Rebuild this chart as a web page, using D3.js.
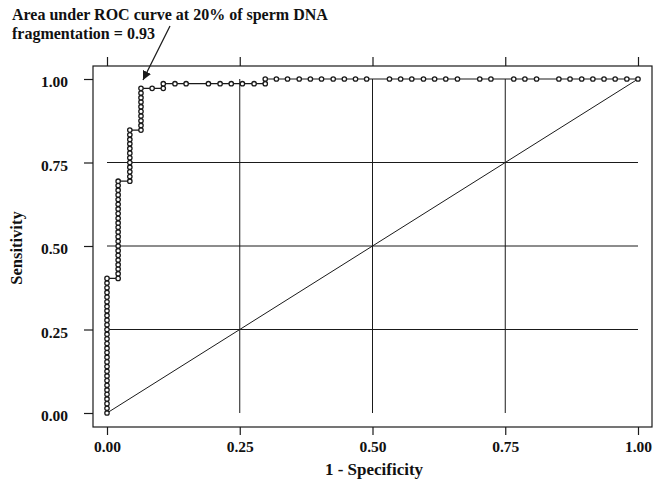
<!DOCTYPE html>
<html>
<head>
    <title>ROC curve</title>
    <script src="https://d3js.org/d3.v7.min.js"></script>
    <style>
        body { margin: 0; background: #fff; }
        text { font-family: "Liberation Serif", "Times New Roman", serif; font-weight: bold; fill: #111; }
    </style>
</head>
<body>
    <div id="chart"></div>

    <script>
        // ROC points (1 - specificity, sensitivity)
        var fpr = [
            0, 0, 0, 0, 0, 0, 0, 0, 0, 0, 0, 0, 0, 0, 0,
            0, 0, 0, 0, 0, 0, 0, 0, 0, 0, 0, 0, 0, 0, 0,
            0.021, 0.021, 0.021, 0.021, 0.021, 0.021, 0.021, 0.021, 0.021, 0.021, 0.021,
            0.021, 0.021, 0.021, 0.021, 0.021, 0.021, 0.021, 0.021, 0.021, 0.021, 0.021,
            0.043, 0.043, 0.043, 0.043, 0.043, 0.043, 0.043, 0.043, 0.043, 0.043, 0.043, 0.043,
            0.064, 0.064, 0.064, 0.064, 0.064, 0.064, 0.064, 0.064, 0.064, 0.064,
            0.085, 0.106,
            0.106, 0.128, 0.149, 0.191, 0.213, 0.234, 0.255, 0.277, 0.298,
            0.298, 0.319, 0.340, 0.362, 0.383, 0.404, 0.426, 0.447, 0.468, 0.489,
            0.532, 0.553, 0.574, 0.596, 0.617, 0.638, 0.660, 0.702, 0.723,
            0.766, 0.787, 0.809, 0.851, 0.872, 0.894, 0.915, 0.936, 0.957, 0.979, 1
        ];
        var sens = [
            0, 0.014, 0.028, 0.042, 0.056, 0.069, 0.083, 0.097, 0.111, 0.125, 0.139, 0.153, 0.167, 0.181, 0.194,
            0.208, 0.222, 0.236, 0.250, 0.264, 0.278, 0.292, 0.306, 0.319, 0.333, 0.347, 0.361, 0.375, 0.389, 0.403,
            0.403, 0.417, 0.431, 0.444, 0.458, 0.472, 0.486, 0.500, 0.514, 0.528, 0.542,
            0.556, 0.569, 0.583, 0.597, 0.611, 0.625, 0.639, 0.653, 0.667, 0.681, 0.694,
            0.694, 0.708, 0.722, 0.736, 0.750, 0.764, 0.778, 0.792, 0.806, 0.819, 0.833, 0.847,
            0.847, 0.861, 0.875, 0.889, 0.903, 0.917, 0.931, 0.944, 0.958, 0.972,
            0.972, 0.972,
            0.986, 0.986, 0.986, 0.986, 0.986, 0.986, 0.986, 0.986, 0.986,
            1, 1, 1, 1, 1, 1, 1, 1, 1, 1,
            1, 1, 1, 1, 1, 1, 1, 1, 1,
            1, 1, 1, 1, 1, 1, 1, 1, 1, 1, 1
        ];
        var tickValues = [0, 0.25, 0.5, 0.75, 1];
        var gridValues = [0.25, 0.5, 0.75];
        var noteLines = ["Area under ROC curve at 20% of sperm DNA", "fragmentation = 0.93"];

        var width = 654, height = 482;
        var frame = { left: 93, right: 652, top: 66, bottom: 427 };

        var svg = d3.select("#chart").append("svg").attr("width", width).attr("height", height);

        var x = d3.scaleLinear().domain([0, 1]).range([107, 638]);
        var y = d3.scaleLinear().domain([0, 1]).range([413, 79]);

        var ink = "#1a1a1a";

        // grid lines inside the data range
        svg.selectAll(".vgrid").data(gridValues).enter().append("line")
            .attr("x1", function(d) { return x(d); }).attr("x2", function(d) { return x(d); })
            .attr("y1", y(0)).attr("y2", y(1))
            .attr("stroke", ink).attr("stroke-width", 1);
        svg.selectAll(".hgrid").data(gridValues).enter().append("line")
            .attr("x1", x(0)).attr("x2", x(1))
            .attr("y1", function(d) { return y(d); }).attr("y2", function(d) { return y(d); })
            .attr("stroke", ink).attr("stroke-width", 1);

        // reference diagonal
        svg.append("line")
            .attr("x1", x(0)).attr("y1", y(0)).attr("x2", x(1)).attr("y2", y(1))
            .attr("stroke", ink).attr("stroke-width", 1);

        // frame
        svg.append("rect")
            .attr("x", frame.left).attr("y", frame.top)
            .attr("width", frame.right - frame.left).attr("height", frame.bottom - frame.top)
            .attr("fill", "none").attr("stroke", ink).attr("stroke-width", 1.2);

        // axes
        var fmt = d3.format(".2f");
        var xAxis = svg.append("g")
            .attr("transform", "translate(0," + frame.bottom + ")")
            .call(d3.axisBottom(x).tickValues(tickValues).tickFormat(fmt).tickSize(8).tickPadding(6));
        var xTop = svg.append("g")
            .attr("transform", "translate(0," + frame.top + ")")
            .call(d3.axisTop(x).tickValues(tickValues).tickFormat("").tickSize(9));
        var yAxis = svg.append("g")
            .attr("transform", "translate(" + frame.left + ",0)")
            .call(d3.axisLeft(y).tickValues(tickValues).tickFormat(fmt).tickSize(9).tickPadding(16));

        [xAxis, xTop, yAxis].forEach(function(g) {
            g.select(".domain").remove();
            g.selectAll("line").attr("stroke", ink).attr("stroke-width", 1.2);
            g.selectAll("text").attr("font-size", 15.5).attr("font-family", null).attr("fill", "#111");
        });
        yAxis.selectAll("text").attr("dy", "0.5em");

        // ROC curve
        var pts = fpr.map(function(f, i) { return [f, sens[i]]; });
        svg.append("path")
            .datum(pts)
            .attr("fill", "none").attr("stroke", ink).attr("stroke-width", 1.2)
            .attr("d", d3.line().x(function(d) { return x(d[0]); }).y(function(d) { return y(d[1]); }));

        svg.selectAll(".pt").data(pts).enter().append("circle")
            .attr("cx", function(d) { return x(d[0]); })
            .attr("cy", function(d) { return y(d[1]); })
            .attr("r", 2.2)
            .attr("fill", "#fff").attr("stroke", ink).attr("stroke-width", 1.3);

        // axis titles
        svg.append("text")
            .attr("x", 374).attr("y", 475).attr("text-anchor", "middle").attr("font-size", 17)
            .text("1 - Specificity");
        svg.append("text")
            .attr("transform", "translate(22,248) rotate(-90)").attr("text-anchor", "middle").attr("font-size", 16.5)
            .text("Sensitivity");

        // annotation
        svg.selectAll(".note").data(noteLines).enter().append("text")
            .attr("x", 12).attr("y", function(d, i) { return 20 + i * 19; })
            .attr("font-size", 16)
            .text(function(d) { return d; });

        svg.append("defs").append("marker")
            .attr("id", "head").attr("viewBox", "0 0 10 10")
            .attr("refX", 10).attr("refY", 5)
            .attr("markerWidth", 9).attr("markerHeight", 9)
            .attr("markerUnits", "userSpaceOnUse")
            .attr("orient", "auto")
            .append("path").attr("d", "M0,0L10,5L0,10z").attr("fill", ink);
        svg.append("line")
            .attr("x1", 170).attr("y1", 26).attr("x2", 143).attr("y2", 80)
            .attr("stroke", ink).attr("stroke-width", 1.3)
            .attr("marker-end", "url(#head)");
    </script>
</body>
</html>
